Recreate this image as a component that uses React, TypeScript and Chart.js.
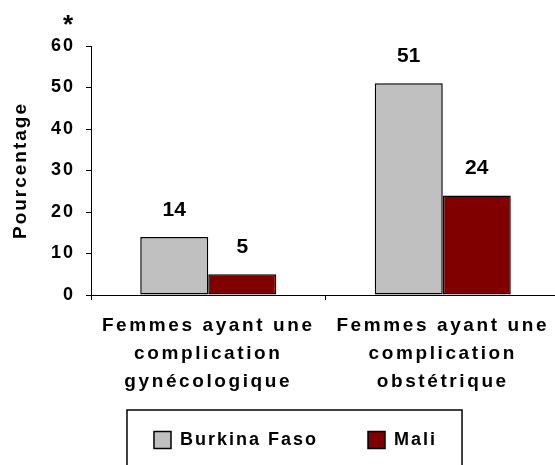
import React, { useEffect, useRef } from "react";
import { Chart, registerables } from "chart.js";

Chart.register(...registerables);

// ---- data ----
const categories: string[][] = [
  ["Femmes ayant une", "complication", "gynécologique"],
  ["Femmes ayant une", "complication", "obstétrique"],
];
const seriesNames: string[] = ["Burkina Faso", "Mali"];
const burkinaFaso: number[] = [14, 51];
const mali: number[] = [5, 24];
const yMin = 0;
const yMax = 60;
const yStep = 10;
const yTitle = "Pourcentage";
const note = "*";

// ---- styles ----
const FONT = '"Liberation Sans", Arial, Helvetica, sans-serif';
const seriesColors = ["#C0C0C0", "#800000"];

const decorPlugin = {
  id: "decor",
  beforeUpdate(chart: any) {
    chart.ctx.letterSpacing = "2px";
  },
  beforeDraw(chart: any) {
    const ctx = chart.ctx;
    ctx.letterSpacing = "2px";
    const xs: any = chart.scales.x;
    if (xs && !xs.__ls) {
      const orig = xs.drawLabels.bind(xs);
      xs._computeLabelArea = () => undefined;
      xs.drawLabels = (area: any) => {
        ctx.save();
        ctx.letterSpacing = "2.6px";
        orig(area);
        ctx.restore();
      };
      xs.__ls = true;
    }
  },
  afterDatasetsDraw(chart: any) {
    const ctx = chart.ctx;
    ctx.save();
    ctx.letterSpacing = "0px";
    ctx.font = `bold 21px ${FONT}`;
    ctx.fillStyle = "#000";
    ctx.textAlign = "center";
    ctx.textBaseline = "middle";
    chart.data.datasets.forEach((ds: any, i: number) => {
      const meta = chart.getDatasetMeta(i);
      meta.data.forEach((el: any, j: number) => {
        ctx.fillText(String(ds.data[j]), el.x, el.y - 27);
      });
    });
    const ys = chart.scales.y;
    ctx.font = `bold 26px ${FONT}`;
    ctx.textBaseline = "alphabetic";
    ctx.fillText(note, ys.right - 23, ys.top - 13);
    ctx.restore();
  },
  afterDraw(chart: any) {
    const lg: any = chart.legend;
    const hb = lg && lg.legendHitBoxes;
    if (!hb || !hb.length) return;
    const first = hb[0];
    const last = hb[hb.length - 1];
    const ctx = chart.ctx;
    ctx.save();
    ctx.strokeStyle = "#000";
    ctx.lineWidth = 1.5;
    const left = first.left - 27;
    const right = last.left + last.width + 25;
    const top = first.top - 21;
    ctx.strokeRect(left, top, right - left, chart.height - top + 10);
    ctx.restore();
  },
};

export default function App() {
  const ref = useRef<HTMLCanvasElement>(null);

  useEffect(() => {
    if (!ref.current) return;
    Chart.defaults.font.family = FONT;
    Chart.defaults.color = "#000";
    const chart = new Chart(ref.current, {
      type: "bar",
      data: {
        labels: categories,
        datasets: [
          {
            label: seriesNames[0],
            data: burkinaFaso,
            backgroundColor: seriesColors[0],
            borderColor: "#000",
            borderWidth: 1.5,
            borderSkipped: false,
            categoryPercentage: 0.58,
            barPercentage: 1.0,
          },
          {
            label: seriesNames[1],
            data: mali,
            backgroundColor: seriesColors[1],
            borderColor: "#000",
            borderWidth: 1.5,
            borderSkipped: false,
            categoryPercentage: 0.58,
            barPercentage: 1.0,
          },
        ],
      },
      options: {
        responsive: false,
        animation: false,
        events: [],
        layout: { padding: { left: 31, right: 30, top: 46, bottom: 50 } },
        plugins: {
          tooltip: { enabled: false },
          title: { display: false },
          legend: {
            display: true,
            position: "bottom",
            labels: {
              boxWidth: 17,
              boxHeight: 17,
              padding: 50,
              color: "#000",
              font: { size: 18, weight: "bold", family: FONT },
            },
          },
        },
        scales: {
          x: {
            type: "category",
            offset: true,
            grid: {
              display: true,
              offset: true,
              drawOnChartArea: false,
              drawTicks: true,
              tickLength: 5,
              color: "#000",
              lineWidth: 1,
            },
            border: { display: true, color: "#000", width: 1 },
            ticks: {
              autoSkip: false,
              maxRotation: 0,
              minRotation: 0,
              padding: 12,
              color: "#000",
              font: { size: 19, weight: "bold", family: FONT, lineHeight: 28 / 19 },
            },
            afterFit: (scale: any) => {
              scale.height = 86;
            },
          },
          y: {
            type: "linear",
            min: yMin,
            max: yMax,
            grid: {
              display: true,
              drawOnChartArea: false,
              drawTicks: true,
              tickLength: 5,
              color: "#000",
              lineWidth: 1,
            },
            border: { display: true, color: "#000", width: 1 },
            ticks: {
              stepSize: yStep,
              padding: 11,
              color: "#000",
              font: { size: 18, weight: "bold", family: FONT },
            },
            title: {
              display: true,
              text: yTitle,
              color: "#000",
              font: { size: 19, weight: "bold", family: FONT },
              padding: { top: -21.5, bottom: 0 },
            },
            afterFit: (scale: any) => {
              scale.width = 60;
            },
          },
        },
      },
      plugins: [decorPlugin],
    } as any);
    return () => chart.destroy();
  }, []);

  return (
    <div
      style={{
        position: "fixed",
        left: 0,
        top: 0,
        width: 555,
        height: 465,
        overflow: "hidden",
        background: "#fff",
      }}
    >
      <canvas
        ref={ref}
        width={590}
        height={509}
        style={{ display: "block", width: 590, height: 509 }}
      />
    </div>
  );
}
